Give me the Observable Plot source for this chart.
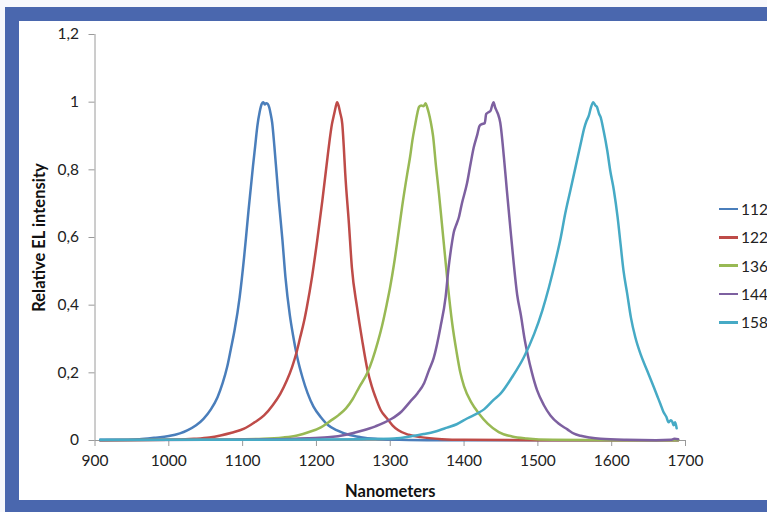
<!DOCTYPE html>
<html>
<head>
<meta charset="utf-8">
<script src="https://cdn.jsdelivr.net/npm/d3@7"></script>
<script src="https://cdn.jsdelivr.net/npm/@observablehq/plot@0.6"></script>
<style>
  html, body { margin: 0; padding: 0; background: #ffffff; overflow: hidden; }
  #wrap { position: relative; width: 767px; height: 512px; overflow: hidden; background: #f7f8fc; }
  #frame { position: absolute; left: 5px; top: 7px; width: 800px; height: 479px; border: 14px solid #4a67ae; border-bottom-width: 12px; background: #ffffff; }
  #chart { position: absolute; left: 0; top: 0; }
  #chart svg { overflow: visible; }
  g[aria-label="y-axis label"] text, g[aria-label="x-axis label"] text { font-weight: bold; font-size: 16.5px; fill: #111; }
  #legend { position: absolute; left: 719px; top: 195px; font-family: Lato, sans-serif; font-size: 15.5px; color: #222; }
  .row { height: 28.3px; display: flex; align-items: center; white-space: nowrap; }
  .sw { width: 19px; height: 2.5px; margin-right: 3px; }
</style>
</head>
<body>
<div id="wrap">
  <div id="frame"></div>
  <div id="chart"></div>
  <div id="legend"></div>
</div>
<script>
// Series names (legend) and colours
const seriesNames = ["1120", "1220", "1360", "1440", "1580"];
const seriesColors = ["#4a7ebb", "#be4b48", "#98b954", "#7d60a0", "#46aac5"];

// Axis ticks
const xTicks = [900, 1000, 1100, 1200, 1300, 1400, 1500, 1600, 1700];
const yTicks = [0, 0.2, 0.4, 0.6, 0.8, 1, 1.2];

// Series 1 (blue) : wavelength (nm) and relative intensity
const s1nm = [907,930,960,980,1000,1015,1025,1037,1047,1057,1066,1073,1079,1084,1089,1096,1102,1105,1108,1111,1114,1117,1120,1123,1126,1128,1130,1132,1134,1136,1138,1140,1143,1146,1149,1154,1158,1164,1168,1174,1181,1188,1196,1206,1216,1228,1244,1260,1280,1300,1350,1450,1550,1690];
const s1v  = [0.002,0.002,0.004,0.008,0.013,0.021,0.030,0.045,0.064,0.092,0.128,0.170,0.217,0.270,0.325,0.424,0.542,0.610,0.680,0.745,0.810,0.870,0.930,0.970,0.995,1.000,0.993,0.997,0.995,0.985,0.965,0.940,0.870,0.790,0.710,0.591,0.483,0.370,0.315,0.246,0.187,0.140,0.100,0.069,0.045,0.030,0.017,0.010,0.005,0.003,0.001,0.001,0.001,0.001];

// Series 2 (red)
const s2nm = [907,1000,1034,1055,1070,1085,1102,1115,1129,1141,1151,1160,1167,1173,1178,1183,1187,1194,1201,1208,1215,1218,1221,1224,1226,1228,1230,1232,1235,1237,1239,1244,1248,1255,1262,1269,1275,1280,1287,1296,1303,1311,1325,1341,1370,1400,1500,1690];
const s2v  = [0.001,0.002,0.005,0.009,0.015,0.023,0.035,0.052,0.074,0.105,0.138,0.178,0.217,0.260,0.305,0.350,0.394,0.483,0.591,0.709,0.837,0.890,0.935,0.965,0.985,1.000,0.990,0.970,0.936,0.870,0.790,0.641,0.512,0.394,0.296,0.210,0.160,0.128,0.090,0.064,0.045,0.030,0.017,0.010,0.004,0.002,0.001,0.001];

// Series 3 (green)
const s3nm = [907,1000,1080,1128,1155,1174,1190,1206,1219,1230,1240,1249,1258,1269,1276,1283,1289,1295,1300,1305,1310,1316,1323,1327,1330,1334,1337,1339,1342,1345,1348,1350,1352,1355,1358,1362,1366,1370,1374,1378,1384,1390,1395,1400,1410,1420,1432,1447,1465,1485,1520,1600,1690];
const s3v  = [0.001,0.002,0.003,0.005,0.009,0.015,0.025,0.039,0.058,0.075,0.095,0.122,0.158,0.200,0.240,0.290,0.340,0.400,0.455,0.520,0.595,0.690,0.788,0.840,0.887,0.936,0.970,0.986,0.990,0.988,0.997,0.985,0.970,0.940,0.900,0.810,0.730,0.640,0.550,0.460,0.345,0.260,0.200,0.160,0.112,0.080,0.050,0.025,0.012,0.006,0.002,0.001,0.001];

// Series 4 (purple)
const s4nm = [907,1050,1150,1190,1219,1240,1260,1280,1300,1315,1327,1337,1346,1352,1359,1368,1375,1379,1384,1386,1389,1393,1397,1404,1409,1413,1418,1421,1424,1428,1430,1433,1436,1438,1440,1442,1444,1446,1449,1454,1458,1463,1467,1472,1477,1482,1486,1492,1499,1508,1517,1528,1540,1549,1558,1570,1585,1620,1660,1680,1685,1690];
const s4v  = [0.001,0.002,0.004,0.007,0.010,0.017,0.028,0.042,0.062,0.085,0.115,0.140,0.170,0.205,0.245,0.335,0.424,0.510,0.590,0.615,0.635,0.660,0.700,0.760,0.820,0.865,0.905,0.930,0.935,0.938,0.965,0.970,0.975,0.990,1.000,0.985,0.975,0.965,0.940,0.837,0.739,0.621,0.530,0.430,0.370,0.300,0.256,0.200,0.148,0.105,0.074,0.050,0.033,0.020,0.014,0.009,0.005,0.002,0.001,0.002,0.005,0.004];

// Series 5 (cyan)
const s5nm = [907,1000,1100,1200,1260,1305,1330,1345,1360,1377,1390,1404,1418,1427,1440,1450,1465,1481,1495,1506,1515,1524,1531,1537,1544,1551,1558,1563,1566,1569,1572,1575,1578,1580,1583,1585,1589,1594,1598,1603,1608,1612,1616,1621,1626,1632,1639,1648,1657,1662,1666,1670,1674,1677,1680,1682,1684,1686,1688];
const s5v  = [0.002,0.002,0.002,0.003,0.004,0.006,0.013,0.019,0.026,0.038,0.048,0.065,0.080,0.092,0.120,0.140,0.187,0.246,0.315,0.384,0.453,0.532,0.600,0.670,0.739,0.808,0.877,0.925,0.945,0.960,0.985,1.000,0.990,0.986,0.965,0.956,0.916,0.857,0.798,0.739,0.660,0.581,0.502,0.434,0.364,0.305,0.256,0.207,0.158,0.130,0.108,0.085,0.070,0.054,0.060,0.056,0.045,0.054,0.036];

const nmArrays = [s1nm, s2nm, s3nm, s4nm, s5nm];
const valArrays = [s1v, s2v, s3v, s4v, s5v];

const data = [];
seriesNames.forEach((name, i) => {
  nmArrays[i].forEach((nm, j) => data.push({series: name, nm, v: valArrays[i][j]}));
});

const fmtY = d => String(+d.toFixed(1)).replace(".", ",");

const chart = Plot.plot({
  width: 767,
  height: 512,
  marginLeft: 94.5,
  marginRight: 82,
  marginTop: 34,
  marginBottom: 72,
  style: {background: "transparent", fontFamily: "Lato, sans-serif", fontSize: "15.5px", color: "#222", overflow: "visible"},
  x: {domain: [900, 1700]},
  y: {domain: [0, 1.2]},
  color: {domain: seriesNames, range: seriesColors},
  marks: [
    Plot.ruleX([900], {stroke: "#9a9a9a", strokeWidth: 1}),
    Plot.ruleY([0], {stroke: "#9a9a9a", strokeWidth: 1}),
    Plot.axisY({ticks: yTicks, tickFormat: fmtY, tickSize: 6, tickPadding: 10, stroke: "#9a9a9a", fill: "#222",
      label: "Relative EL intensity", labelAnchor: "center", labelOffset: 62, labelArrow: false}),
    Plot.axisX({ticks: xTicks, tickFormat: d => String(d), tickSize: 6, tickPadding: 8, stroke: "#9a9a9a", fill: "#222",
      label: "Nanometers", labelAnchor: "center", labelOffset: 56, labelArrow: false}),
    Plot.line(data, {x: "nm", y: "v", z: "series", stroke: "series", strokeWidth: 2.5, strokeLinejoin: "round", curve: "monotone-x"})
  ]
});
document.getElementById("chart").appendChild(chart);

const legend = document.getElementById("legend");
seriesNames.forEach((name, i) => {
  const row = document.createElement("div");
  row.className = "row";
  const sw = document.createElement("span");
  sw.className = "sw";
  sw.style.background = seriesColors[i];
  const t = document.createElement("span");
  t.textContent = name;
  row.appendChild(sw);
  row.appendChild(t);
  legend.appendChild(row);
});
</script>
</body>
</html>
